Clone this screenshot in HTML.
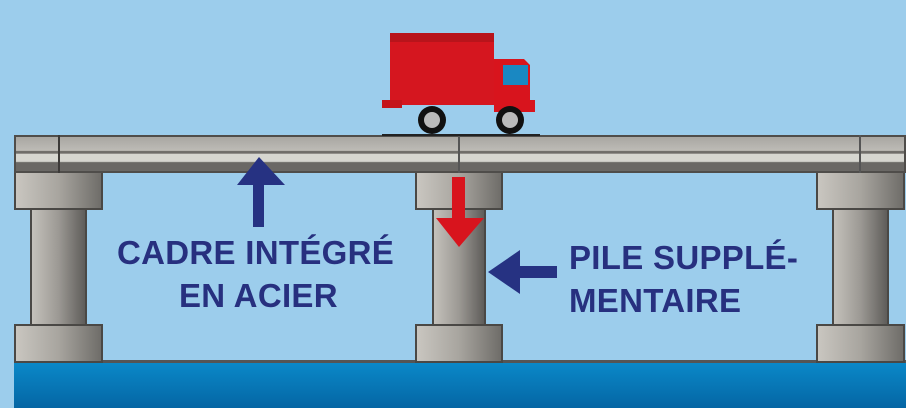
<!DOCTYPE html><html><head><style>
body{margin:0;width:906px;height:408px;overflow:hidden;background:#9ccdec;position:relative;font-family:"Liberation Sans",sans-serif}
div{position:absolute;box-sizing:border-box}
.cap{background:linear-gradient(90deg,#c9c6c0,#a8a59f 50%,#6f6d69);border:2px solid #4a4845}
.col{background:linear-gradient(90deg,#c4c1bb,#9c9994 50%,#5f5d5a);border:2px solid #4a4845}
.t{color:#27307f;font-weight:bold;font-size:33px;letter-spacing:0.3px;white-space:nowrap;line-height:36px}
</style></head><body>
<div style="left:14px;top:360px;width:892px;height:48px;background:linear-gradient(#0a88c8,#0566a4);border-top:3px solid #555"></div>
<div class="col" style="left:30px;top:205px;width:57px;height:122px"></div>
<div class="cap" style="left:14px;top:170px;width:89px;height:40px"></div>
<div class="cap" style="left:14px;top:324px;width:89px;height:39px"></div>
<div class="col" style="left:432px;top:205px;width:54px;height:122px"></div>
<div class="cap" style="left:415px;top:170px;width:88px;height:40px"></div>
<div class="cap" style="left:415px;top:324px;width:88px;height:39px"></div>
<div class="col" style="left:832px;top:205px;width:57px;height:122px"></div>
<div class="cap" style="left:816px;top:170px;width:89px;height:40px"></div>
<div class="cap" style="left:816px;top:324px;width:89px;height:39px"></div>
<div style="left:14px;top:135px;width:892px;height:38px;border:2px solid #4f4d4a;background:linear-gradient(#a9a7a2,#bdbbb6 40%,#6f6d69 42%,#6f6d69 48%,#d6d6d0 50%,#d6d6d0 72%,#6a6865 75%,#6a6865)"></div>
<div style="left:58px;top:135px;width:2px;height:38px;background:#3c3a38"></div>
<div style="left:458px;top:135px;width:2px;height:38px;background:#555"></div>
<div style="left:859px;top:135px;width:2px;height:38px;background:#555"></div>
<svg style="position:absolute;left:0;top:0" width="906" height="408">
<line x1="382" y1="135" x2="540" y2="135" stroke="#222" stroke-width="2"/>
<rect x="390" y="33" width="104" height="72" fill="#d5161f"/>
<rect x="390" y="33" width="104" height="9" fill="#b8141b"/>
<rect x="382" y="100" width="20" height="8" fill="#c4141b"/>
<path d="M494 59h30l6 6v35l5 0v12h-41z" fill="#d8141d"/>
<rect x="503" y="65" width="25" height="20" fill="#1a88c2"/>
<circle cx="432" cy="120" r="14" fill="#111"/><circle cx="432" cy="120" r="8" fill="#bbb"/>
<circle cx="510" cy="120" r="14" fill="#111"/><circle cx="510" cy="120" r="8" fill="#bbb"/>
<path d="M259 157L285 185H264V227H253V185H237Z" fill="#263282"/>
<path d="M452 177H465V218H484L459 247L436 218H452Z" fill="#d8141d"/>
<path d="M488 272L520 250V266H557V278H520V294Z" fill="#263282"/>
</svg>
<div class="t" style="left:117px;top:235px">CADRE INTÉGRÉ</div>
<div class="t" style="left:179px;top:278px">EN ACIER</div>
<div class="t" style="left:569px;top:240px">PILE SUPPLÉ-</div>
<div class="t" style="left:569px;top:283px">MENTAIRE</div>
</body></html>
